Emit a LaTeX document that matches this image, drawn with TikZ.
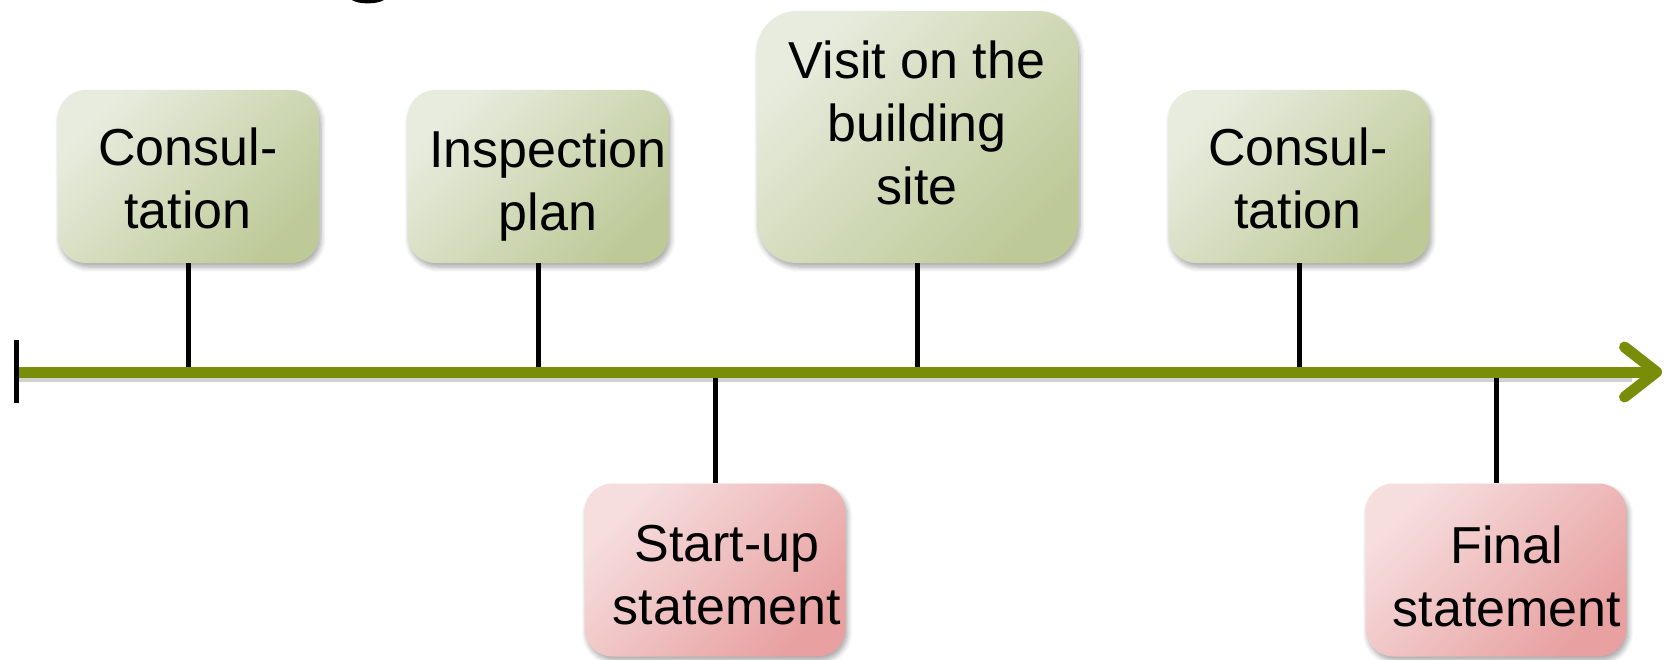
\documentclass[tikz,border=0pt]{standalone}
\usepackage{fontspec}
\setmainfont{Liberation Sans}
\usetikzlibrary{shadows.blur,arrows.meta}
\definecolor{axisgreen}{RGB}{122,141,8}
\definecolor{gLight}{RGB}{232,236,222}
\definecolor{gDark}{RGB}{189,202,152}
\definecolor{pLight}{RGB}{246,222,223}
\definecolor{pDark}{RGB}{232,160,160}
\begin{document}
\begin{tikzpicture}[x=1pt,y=-1pt,
  softshadow/.style={blur shadow={shadow xshift=2pt, shadow yshift=-4pt, shadow blur radius=5pt, shadow blur steps=6, shadow opacity=35}},
  gbox/.style={rounded corners=28pt, top color=gLight, bottom color=gDark, shading angle=45, softshadow, inner sep=0pt, minimum width=261pt, minimum height=173pt},
  pbox/.style={rounded corners=28pt, top color=pLight, bottom color=pDark, shading angle=45, softshadow, inner sep=0pt, minimum width=261pt, minimum height=173pt},
  lbl/.style={anchor=base, inner sep=0pt, font=\fontsize{52}{63}\selectfont},
  tick/.style={black, line width=5pt},
  axisline/.style={axisgreen, line width=11pt, line cap=butt, -{Straight Barb[length=32pt, width=50pt, round]}},
]
\useasboundingbox (0,0) rectangle (1667,659);
\clip (0,0) rectangle (1667,659);
% fragment of cut-off title
\fill[black] (352,0) .. controls (358,4.5) and (377,4.5) .. (384,0) -- cycle;

% boxes
\node[gbox] (b1) at (188.5,176.5) {};
\node[gbox] (b2) at (538,176.5) {};
\node[gbox, rounded corners=40pt, minimum width=321pt, minimum height=252pt] (b3) at (917.5,137) {};
\node[gbox] (b4) at (1299,176.5) {};
\node[pbox] (b5) at (715,570) {};
\node[pbox] (b6) at (1496,570) {};

% labels
\node[lbl] (t1) at (188,165) {\begin{tabular}[t]{@{}c@{}}Consul-\\tation\end{tabular}};
\node[lbl] (t2) at (548,167) {\begin{tabular}[t]{@{}c@{}}Inspection\\plan\end{tabular}};
\node[lbl] (t3) at (917,78) {\begin{tabular}[t]{@{}c@{}}Visit on the\\building\\site\end{tabular}};
\node[lbl] (t4) at (1298,165) {\begin{tabular}[t]{@{}c@{}}Consul-\\tation\end{tabular}};
\node[lbl] (t5) at (727,561) {\begin{tabular}[t]{@{}c@{}}Start-up\\statement\end{tabular}};
\node[lbl] (t6) at (1507,563) {\begin{tabular}[t]{@{}c@{}}Final\\statement\end{tabular}};

% axis
\coordinate (axL) at (16,372);
\coordinate (axR) at (1662,372);

% connectors
\draw[tick] (b1.south) -- (b1.south |- axL);
\draw[tick] (b2.south) -- (b2.south |- axL);
\draw[tick] (b3.south) -- (b3.south |- axL);
\draw[tick] (b4.south) -- (b4.south |- axL);
\draw[tick] (b5.north) -- (b5.north |- axL);
\draw[tick] (b6.north) -- (b6.north |- axL);

% axis shadow and axis
\draw[black, opacity=0.18, line width=9pt] ([shift={(2,5)}]axL) -- ([shift={(-30,5)}]axR);
\draw[axisline] (axL) -- (axR);
\draw[black, line width=5pt] ([shift={(0,-32)}]axL) -- ([shift={(0,31)}]axL);
\end{tikzpicture}
\end{document}
